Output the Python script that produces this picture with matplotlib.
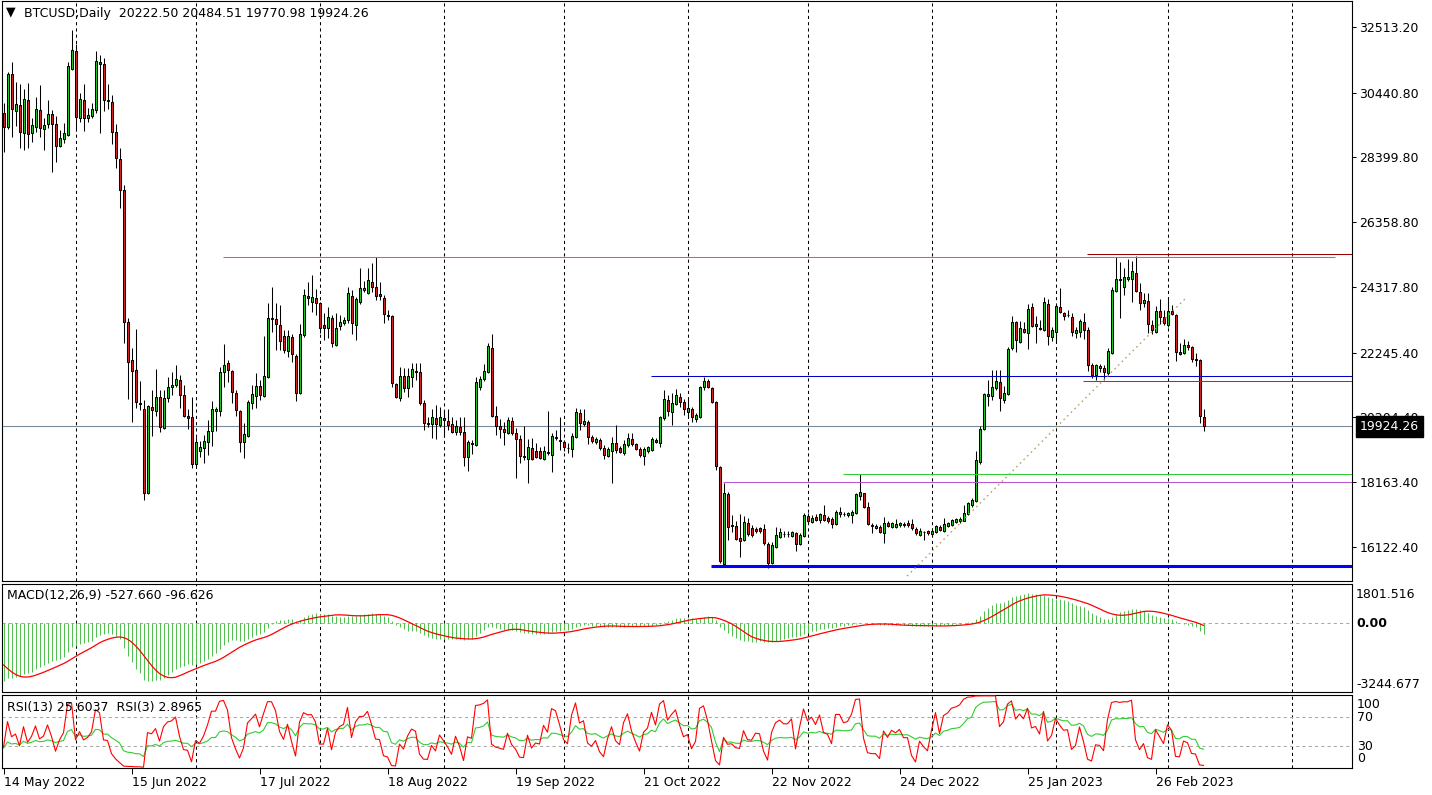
import numpy as np
import pandas as pd
import matplotlib
matplotlib.use("Agg")
import matplotlib.pyplot as plt

plt.rcParams['font.family'] = ['DejaVu Sans']

# ---------------- data ----------------
symbol = "BTCUSD"
timeframe = "Daily"
start_date = "2022-05-14"

open_ = [
29790, 29350, 31030, 29850, 30040, 29180, 30200, 29160, 29350, 29890,
29290, 29450, 29760, 29450, 28770, 28970, 29110, 31190, 31750, 29630,
30200, 29630, 29700, 29890, 31400, 31340, 30210, 30140, 29190, 28340,
27370, 23200, 22030, 21690, 20660, 20460, 17810, 20530, 20400, 20840,
19860, 20810, 21180, 21220, 21380, 20900, 20240, 20210, 18730, 19140,
19230, 19420, 19770, 20420, 20400, 21630, 21910, 21660, 20970, 20420,
19420, 19630, 20650, 20890, 21190, 20890, 21490, 23300, 23300, 23110,
22770, 22310, 22730, 22140, 20970, 22790, 24030, 23830, 23960, 23800,
23110, 23020, 23330, 22500, 23080, 23170, 23280, 24030, 23130, 23830,
24210, 24120, 24470, 24310, 24100, 23960, 23430, 23400, 21250, 20830,
21510, 21120, 21470, 21650, 21630, 20650, 20020, 19990, 20180, 19960,
20180, 20080, 19990, 19750, 19900, 19750, 18970, 19390, 19350, 21180,
21430, 21650, 22390, 20240, 19940, 19840, 19730, 20080, 19710, 19530,
18990, 18890, 19240, 19160, 19150, 18890, 19110, 19030, 19550, 19500,
19420, 19250, 19220, 19580, 20340, 19990, 20050, 19590, 19430, 19500,
19250, 19000, 19160, 19390, 19230, 19080, 19340, 19530, 19370, 19210,
19000, 19160, 19180, 19490, 19390, 20180, 20760, 20390, 20620, 20840,
20680, 20390, 20460, 20150, 20230, 21160, 21350, 21120, 20690, 18630,
15590, 17790, 16820, 16800, 16400, 16340, 16870, 16730, 16680, 16710,
16680, 16220, 15610, 16110, 16450, 16520, 16520, 16480, 16560, 16220,
16470, 17100, 16920, 17060, 16960, 17130, 17040, 17010, 16840, 17150,
17150, 17120, 17120, 17180, 17730, 17810, 17390, 16820, 16710, 16760,
16570, 16870, 16760, 16760, 16830, 16840, 16890, 16850, 16690, 16510,
16600, 16630, 16540, 16580, 16760, 16640, 16780, 16830, 16910, 16930,
16950, 17150, 17440, 17560, 18810, 19840, 20890, 20890, 21120, 21330,
20760, 20930, 22380, 23200, 22590, 22990, 22860, 23680, 23090, 23010,
22960, 23780, 22740, 22910, 23680, 23500, 23450, 23380, 22880, 22890,
23200, 22960, 21850, 21540, 21750, 21750, 21620, 22230, 24200, 24560,
24330, 24560, 24560, 24750, 24170, 23800, 23890, 23120, 22910, 23570,
23360, 23120, 23560, 23420, 22260, 22230, 22490, 22420, 22050, 22020,
20222.50]

high = [
30110, 31100, 31410, 30780, 30720, 30550, 30750, 29630, 30300, 30690,
29630, 30210, 29900, 29700, 29260, 29480, 31400, 32420, 31980, 30420,
30720, 29950, 30110, 31750, 31620, 31530, 30720, 30360, 29460, 28700,
27530, 23330, 22390, 22980, 21360, 20760, 20600, 21070, 21730, 21070,
21070, 21470, 21640, 21860, 21530, 21230, 20460, 20860, 19600, 19470,
19650, 20130, 20720, 20530, 21810, 22520, 22020, 21700, 21070, 20440,
20020, 20760, 21230, 21600, 21390, 22770, 23800, 24330, 23800, 23750,
22960, 22960, 22840, 22210, 23140, 24240, 24480, 24700, 24240, 23860,
23490, 23700, 23440, 23490, 23440, 23380, 24330, 24220, 24010, 24910,
24520, 24910, 25060, 25250, 24490, 24070, 23590, 23430, 21300, 21810,
21750, 21750, 21910, 21910, 21930, 20760, 20230, 20460, 20600, 20530,
20440, 20460, 20230, 20130, 20230, 20210, 19500, 19500, 21470, 21510,
21880, 22540, 22840, 20570, 20150, 20070, 20230, 20230, 19860, 19650,
19940, 19540, 19550, 19390, 19290, 19310, 20410, 19710, 19810, 20210,
19500, 19410, 19730, 20490, 20460, 20470, 20130, 19650, 19580, 19550,
19340, 19260, 19600, 19970, 19310, 19480, 19730, 19710, 19410, 19290,
19290, 19310, 19600, 19570, 20250, 21070, 20910, 20970, 21090, 20970,
20780, 20810, 20550, 20360, 21200, 21490, 21410, 21160, 20740, 18680,
18150, 17850, 17130, 16950, 17160, 17100, 17030, 16820, 16760, 16760,
16840, 16290, 16290, 16760, 16710, 16640, 16620, 16640, 16610, 16550,
17180, 17180, 17120, 17160, 17180, 17450, 17100, 17080, 17290, 17390,
17230, 17240, 17290, 17840, 18420, 17840, 17550, 16870, 16850, 16820,
17060, 16950, 16920, 17000, 16900, 16900, 16970, 17010, 16760, 16710,
16640, 16660, 16710, 16820, 16820, 17030, 16920, 17010, 17030, 17060,
17450, 17550, 17660, 19160, 19940, 20990, 21390, 21700, 21700, 21700,
21200, 22440, 23400, 23260, 23250, 23230, 23780, 23800, 23400, 23280,
24010, 23930, 23070, 23780, 24280, 23540, 23590, 23490, 23070, 23300,
23490, 23050, 21910, 21890, 21890, 21860, 22380, 24330, 25270, 25090,
24910, 25190, 25150, 25300, 24430, 24140, 24140, 23280, 23720, 23930,
23590, 24010, 23750, 23470, 22540, 22670, 22630, 22460, 22230, 22040,
20484.51]

low = [
28580, 29300, 29040, 29390, 28710, 28620, 28710, 28900, 29190, 29040,
28620, 29320, 27950, 28270, 28740, 28850, 29090, 31170, 29250, 29530,
29250, 29530, 29630, 29790, 29180, 29860, 29920, 28840, 28080, 26820,
22540, 20800, 20050, 20490, 20440, 17600, 17780, 19630, 20260, 19760,
19830, 20680, 20900, 21180, 20490, 20210, 19830, 18600, 18690, 18950,
18760, 19020, 19300, 19770, 20240, 21180, 21310, 20650, 20260, 19130,
18920, 19600, 20460, 20490, 20760, 20860, 21440, 22910, 22330, 22330,
22230, 22120, 21960, 20740, 20930, 22750, 23750, 23540, 23440, 22860,
22650, 22700, 22440, 22460, 22960, 23120, 23190, 22830, 22650, 23770,
24170, 24090, 24170, 23910, 23910, 23190, 23280, 21180, 20810, 20740,
21020, 20860, 21180, 21390, 20600, 19810, 19920, 19550, 19530, 19900,
19600, 19810, 19710, 19650, 19650, 18690, 18530, 19040, 19310, 21070,
21370, 21600, 20230, 19650, 19550, 19340, 19690, 19650, 18290, 18760,
18870, 18150, 18870, 18920, 18890, 18870, 19020, 18500, 19500, 19180,
19160, 19100, 18950, 19550, 19810, 19940, 19370, 19410, 19370, 19180,
18890, 18970, 18130, 19080, 19080, 19020, 19290, 19310, 19180, 18970,
18710, 19100, 19160, 19390, 19260, 20130, 20250, 19970, 20600, 20550,
20280, 20230, 20070, 20070, 20180, 21070, 21120, 20650, 18550, 15610,
15500, 16340, 16610, 16340, 15800, 16320, 16470, 16450, 16550, 16550,
16190, 15470, 15590, 16090, 16400, 16430, 16450, 16450, 16010, 16190,
16430, 16870, 16890, 16930, 16870, 16950, 16890, 16710, 16820, 17080,
17110, 17080, 16890, 17160, 17600, 17340, 16820, 16550, 16680, 16550,
16240, 16760, 16710, 16710, 16760, 16760, 16760, 16660, 16500, 16470,
16340, 16500, 16500, 16550, 16640, 16600, 16760, 16780, 16870, 16890,
16930, 17120, 17390, 17530, 18740, 19820, 20570, 20760, 21070, 20420,
20650, 20910, 22330, 22280, 22540, 22860, 22350, 23070, 22540, 22960,
22940, 22490, 22630, 22590, 23490, 23280, 23360, 22770, 22700, 22750,
22670, 21680, 21440, 21390, 21650, 21390, 21540, 22210, 24170, 23330,
24070, 24520, 23860, 24170, 23590, 23700, 22860, 22830, 22880, 23150,
23120, 23050, 23420, 22000, 22170, 22210, 22330, 21960, 21830, 20020,
19770.98]

close = [
29350, 31030, 29920, 30080, 29210, 30230, 29130, 29410, 29920, 29320,
29410, 29760, 29450, 28750, 29000, 29160, 31270, 31780, 29670, 30230,
29630, 29730, 29920, 31430, 31340, 30200, 30170, 29190, 28370, 27370,
23200, 21960, 21660, 20680, 20620, 17810, 20560, 20430, 20840, 19890,
20810, 21160, 21220, 21410, 20900, 20240, 20200, 18730, 19420, 19260,
19450, 19770, 20460, 20460, 21630, 21850, 21690, 21000, 20430, 19440,
19700, 20680, 20930, 21200, 20920, 21500, 23330, 23330, 23140, 22600,
22320, 22770, 22200, 20990, 22830, 24070, 23980, 23990, 23820, 23040,
23040, 23380, 22540, 23030, 23220, 23280, 24120, 23170, 23930, 24280,
24290, 24530, 24330, 24030, 24020, 23470, 23400, 21280, 20860, 21510,
21130, 21510, 21730, 21680, 20670, 20020, 19990, 20210, 19990, 20230,
20110, 19980, 19760, 19940, 19760, 18970, 19420, 19380, 21320, 21430,
21670, 22470, 20260, 19940, 19840, 19760, 20130, 19730, 19530, 19000,
18960, 19280, 18890, 18960, 18940, 19150, 19080, 19610, 19590, 19470,
19290, 19230, 19620, 20380, 20020, 20090, 19580, 19470, 19540, 19250,
19030, 19220, 19390, 19180, 19110, 19370, 19560, 19380, 19220, 19020,
19210, 19260, 19530, 19420, 20220, 20780, 20420, 20670, 20900, 20680,
20460, 20490, 20210, 20280, 21160, 21370, 21160, 20700, 18680, 15690,
17810, 16760, 16790, 16390, 16320, 16900, 16530, 16510, 16640, 16630,
16240, 15630, 16190, 16500, 16590, 16540, 16540, 16600, 16230, 16500,
17130, 16950, 17050, 16970, 17150, 16970, 16950, 16850, 17220, 17220,
17170, 17180, 17240, 17790, 17860, 17390, 16850, 16800, 16800, 16610,
16890, 16800, 16870, 16850, 16870, 16830, 16830, 16710, 16550, 16640,
16590, 16550, 16630, 16780, 16660, 16850, 16890, 16970, 16990, 17020,
17200, 17500, 17600, 18850, 19830, 20930, 20950, 21170, 21350, 20820,
20970, 22350, 23200, 22650, 23020, 22910, 23610, 23100, 23150, 22990,
23830, 22770, 22960, 23720, 23540, 23410, 23420, 22910, 22960, 23240,
22960, 21870, 21540, 21850, 21830, 21650, 22300, 24220, 24560, 24540,
24640, 24640, 24810, 24200, 23820, 23910, 23140, 22960, 23570, 23380,
23170, 23570, 23470, 22260, 22210, 22490, 22440, 22050, 22020, 20240,
19924.26]

# closes before the first visible bar (indicator warm-up only, not drawn)
warmup_close = [
39280, 41110, 40920, 41760, 42200, 41260, 41000, 42360, 42890, 43960,
44350, 44500, 46820, 47130, 47450, 47060, 45530, 46280, 45810, 46400,
46620, 45500, 43170, 43440, 42250, 42750, 42160, 39530, 40070, 41150,
39940, 40550, 40400, 39680, 40800, 41500, 41370, 40480, 39710, 39470,
39450, 40430, 38120, 39240, 39740, 38600, 37710, 38470, 38530, 37750,
39700, 36550, 36010, 35470, 34060, 30300, 31020, 28940, 29050, 29790]

price_ticks = [32513.20, 30440.80, 28399.80, 26358.80, 24317.80,
               22245.40, 20204.40, 18163.40, 16122.40]
macd_params = (12, 26, 9)
macd_last = (-527.660, -96.626)
macd_scale = ["1801.516", "0.00", "-3244.677"]
rsi_periods = (13, 3)
rsi_last = (25.6037, 2.8965)
rsi_scale = ["100", "70", "30", "0"]
rsi_levels = [70, 30]

# chart objects: horizontal levels (price, first bar, last bar; None = to right edge)
level_prices = [25263, 25358, 21512, 21355, 18424, 18172, 15524]
level_first = [54.9, 270.9, 161.9, 269.9, 209.9, 179.9, 176.9]
level_last = [332.9, None, None, None, None, None, None]
trend_bars = [225.9, 295.6]
trend_prices = [15208, 23971]

# ---------------- styles ----------------
bull_col = '#22CC22'
bear_col = '#DD2222'
level_colors = ['#E8602C', '#990000', '#0000CC', '#DC143C', '#32CD32', '#BA55D3', '#0000FF']
level_widths = [0.75, 0.75, 0.75, 0.75, 0.75, 0.75, 2.2]

# ---------------- indicators ----------------
n = min(len(open_), len(high), len(low), len(close))
o = np.array(open_[:n], float)
h = np.array(high[:n], float)
l = np.array(low[:n], float)
c = np.array(close[:n], float)
x = np.arange(n)
nw = len(warmup_close)

allc = pd.Series(list(warmup_close) + list(c))
ema_f = allc.ewm(span=macd_params[0], adjust=False).mean()
ema_s = allc.ewm(span=macd_params[1], adjust=False).mean()
macd = ema_f - ema_s
signal = macd.rolling(macd_params[2]).mean()
macd_v = macd.values[nw:]
sig_v = signal.values[nw:]


def rsi(series, p):
    d = series.diff().fillna(0.0)
    g = d.clip(lower=0)
    ls = (-d).clip(lower=0)
    ag = g.ewm(alpha=1.0 / p, adjust=False).mean()
    al = ls.ewm(alpha=1.0 / p, adjust=False).mean()
    r = 100 - 100 / (1 + ag / al.replace(0, np.nan))
    r = r.fillna(100.0)
    return r.values[nw:]


rsi_a = rsi(allc, rsi_periods[0])
rsi_b = rsi(allc, rsi_periods[1])

dates = pd.date_range(start_date, periods=n, freq='D')

# ---------------- figure ----------------
W, H = 1432, 795
fig = plt.figure(figsize=(W / 100, H / 100), dpi=100)


def rect(x0, y0, x1, y1):
    return [x0 / W, 1 - y1 / H, (x1 - x0) / W, (y1 - y0) / H]


def fx(px):
    return px / W


def fy(py):
    return 1 - py / H


ax = fig.add_axes(rect(1.5, 1, 1352, 581))
axm = fig.add_axes(rect(1.5, 584, 1352, 692))
axr = fig.add_axes(rect(1.5, 694.5, 1352, 768))
xmin, xmax = -0.5, 337.125

ext = pd.date_range(start_date, periods=int(xmax) + 1, freq='D')
month_starts = np.where(ext.day == 1)[0]

for a in (ax, axm, axr):
    a.set_xlim(xmin, xmax)
    a.set_facecolor('white')
    for s in a.spines.values():
        s.set_linewidth(0.8)
        s.set_color('black')
    for m in month_starts:
        a.axvline(m, color='black', lw=0.75, ls=(0, (3, 3)), zorder=0.5)

# main price panel
ax.set_ylim(15051, 33332)
ax.axhline(c[-1], color='#7B8A99', lw=0.8, zorder=1.5)
ax.vlines(x, l, h, color='black', lw=0.75, zorder=2)
up = c >= o
ax.bar(x, np.abs(c - o), bottom=np.minimum(o, c), width=0.5,
       color=np.where(up, bull_col, bear_col), edgecolor='black',
       linewidth=0.75, zorder=3)
for p, s, e, col, w in zip(level_prices, level_first, level_last, level_colors, level_widths):
    ax.hlines(p, s, xmax if e is None else e, colors=col, lw=w, zorder=4)
ax.plot(trend_bars, trend_prices, color='#B8A466', lw=1.0, ls=(0, (1.2, 2.5)), zorder=4)

ax.set_xticks([])
ax.yaxis.tick_right()
ax.set_yticks(price_ticks)
ax.set_yticklabels([f"{v:.2f}" for v in price_ticks])
ax.tick_params(axis='y', direction='out', length=3, width=0.75, pad=2.2,
               labelsize=9, colors='black')
ax.text((1360 - 1.5) / 1350.5, c[-1], f"{c[-1]:.2f}", transform=ax.get_yaxis_transform(),
        color='white', fontsize=9, va='center', ha='left', zorder=10, clip_on=False,
        bbox=dict(boxstyle='square,pad=0.3', fc='black', ec='black'))

# MACD panel
axm.set_ylim(-3583, 2066)
axm.axhline(0, color='#A9A9A9', lw=0.75, ls=(0, (3, 3)), zorder=1)
axm.vlines(x, 0, macd_v, color='#4CBF4C', lw=0.7, zorder=2)
axm.plot(x, sig_v, color='#FF0000', lw=0.9, zorder=3)
axm.set_xticks([])
axm.set_yticks([])

# RSI panel
axr.set_ylim(-0.7, 101.8)
for lv in rsi_levels:
    axr.axhline(lv, color='#A9A9A9', lw=0.75, ls=(0, (3, 3)), zorder=1)
axr.plot(x, rsi_a, color='#33CC33', lw=0.8, zorder=2)
axr.plot(x, rsi_b, color='#FF0000', lw=0.8, zorder=3)
axr.set_yticks([])
xt = list(range(0, n, 32))
axr.set_xticks(xt)
axr.set_xticklabels([dates[i].strftime('%d %b %Y') for i in xt], ha='left', fontsize=9)
axr.tick_params(axis='x', direction='out', length=4, width=0.75, pad=1.5, colors='black')

# texts
fig.text(fx(6), fy(12), "\u25BC", fontsize=9, va='center', ha='left')
fig.text(fx(24), fy(13),
         f"{symbol},{timeframe}  {o[-1]:.2f} {h[-1]:.2f} {l[-1]:.2f} {c[-1]:.2f}",
         fontsize=9, va='center', ha='left')
fig.text(fx(7), fy(596),
         f"MACD({macd_params[0]},{macd_params[1]},{macd_params[2]}) {macd_last[0]:.3f} {macd_last[1]:.3f}",
         fontsize=9, va='center', ha='left')
fig.text(fx(7), fy(707.5),
         f"RSI({rsi_periods[0]}) {rsi_last[0]:.4f}  RSI({rsi_periods[1]}) {rsi_last[1]:.4f}",
         fontsize=9, va='center', ha='left')
for lab, yy in zip(macd_scale, [594, 623.3, 684]):
    fig.text(fx(1356), fy(yy), lab, fontsize=9, va='center', ha='left',
             fontweight='bold' if lab == "0.00" else 'normal')
for lab, yy in zip(rsi_scale, [705, 717.7, 746, 759]):
    fig.text(fx(1357), fy(yy), lab, fontsize=9, va='center', ha='left')

fig.savefig("out.png", dpi=100)
